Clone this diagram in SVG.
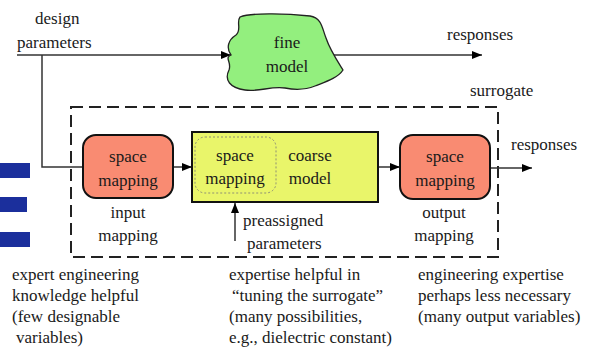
<svg xmlns="http://www.w3.org/2000/svg" width="595" height="353" viewBox="0 0 595 353">
<defs>
<marker id="arr" markerWidth="10" markerHeight="8" refX="10" refY="4" orient="auto" markerUnits="userSpaceOnUse">
<path d="M0,0 L10,4 L0,8 Z" fill="#000"/>
</marker>
<style>
text{font-family:'Liberation Serif','Times New Roman',serif;font-size:17px;fill:#1a1a1a}
.c{text-anchor:middle}
.ln{stroke:#333;stroke-width:1.5;fill:none}
.sm{fill:#f98b72;stroke:#111;stroke-width:2}
</style>
</defs>
<rect width="595" height="353" fill="#fff"/>
<g id="bars" fill="#1b2f9c">
<rect x="0" y="163" width="30" height="15"/>
<rect x="0" y="197" width="27" height="15"/>
<rect x="0" y="232" width="30" height="15"/>
</g>
<g id="surrogate">
<rect x="71" y="107" width="427" height="150" fill="none" stroke="#222" stroke-width="2" stroke-dasharray="12,6"/>
<text x="470" y="96">surrogate</text>
</g>
<g id="connectors">
<path class="ln" d="M17 55 H231" marker-end="url(#arr)"/>
<path class="ln" d="M42 55 V167 H83"/>
<path class="ln" d="M334 55 H482" marker-end="url(#arr)"/>
<path class="ln" d="M173 167 H192" marker-end="url(#arr)"/>
<path class="ln" d="M378 167 H400" marker-end="url(#arr)"/>
<path class="ln" d="M490 168 H532" marker-end="url(#arr)"/>
<path class="ln" d="M235 241 V203" marker-end="url(#arr)"/>
</g>
<g id="design-parameters">
<text x="35" y="24">design</text>
<text x="17" y="48">parameters</text>
</g>
<g id="fine-model">
<path d="M240 17 C252 12 290 14 310 16 C322 18 322 28 326 38 C330 50 338 62 343 70 C338 78 325 82 315 86 C305 90 295 90 285 88 C270 86 260 92 245 90 C230 88 224 80 229 70 C232 62 224 58 231 55 C226 48 228 40 236 35 C242 30 236 22 240 17 Z" fill="#93ef7e" stroke="#222" stroke-width="1.3"/>
<text class="c" x="287" y="48">fine</text>
<text class="c" x="287" y="72">model</text>
</g>
<g id="responses-top">
<text x="447" y="40">responses</text>
</g>
<g id="input-mapping">
<rect class="sm" x="83" y="135" width="90" height="63" rx="13"/>
<text class="c" x="128" y="162">space</text>
<text class="c" x="128" y="186">mapping</text>
<text class="c" x="128" y="218">input</text>
<text class="c" x="128" y="241">mapping</text>
</g>
<g id="coarse-model">
<rect x="192" y="132" width="186" height="70" fill="#e9f56a" stroke="#111" stroke-width="2"/>
<rect x="195" y="137" width="81" height="56" rx="10" fill="none" stroke="#777" stroke-width="0.8" stroke-dasharray="2,2"/>
<text class="c" x="235" y="161">space</text>
<text class="c" x="235" y="184">mapping</text>
<text class="c" x="310" y="161">coarse</text>
<text class="c" x="310" y="184">model</text>
</g>
<g id="preassigned">
<text x="243" y="226">preassigned</text>
<text x="247" y="249">parameters</text>
</g>
<g id="output-mapping">
<rect class="sm" x="400" y="135" width="90" height="64" rx="13"/>
<text class="c" x="445" y="162">space</text>
<text class="c" x="445" y="186">mapping</text>
<text class="c" x="444" y="218">output</text>
<text class="c" x="444" y="241">mapping</text>
</g>
<g id="responses-right">
<text x="511" y="150">responses</text>
</g>
<g id="notes">
<text x="12" y="280">expert engineering</text>
<text x="12" y="301">knowledge helpful</text>
<text x="12" y="322">(few designable</text>
<text x="16" y="343">variables)</text>
<text x="229" y="280">expertise helpful in</text>
<text x="232" y="301">“tuning the surrogate”</text>
<text x="229" y="322">(many possibilities,</text>
<text x="229" y="343">e.g., dielectric constant)</text>
<text x="418" y="280">engineering expertise</text>
<text x="418" y="301">perhaps less necessary</text>
<text x="418" y="322">(many output variables)</text>
</g>
</svg>
